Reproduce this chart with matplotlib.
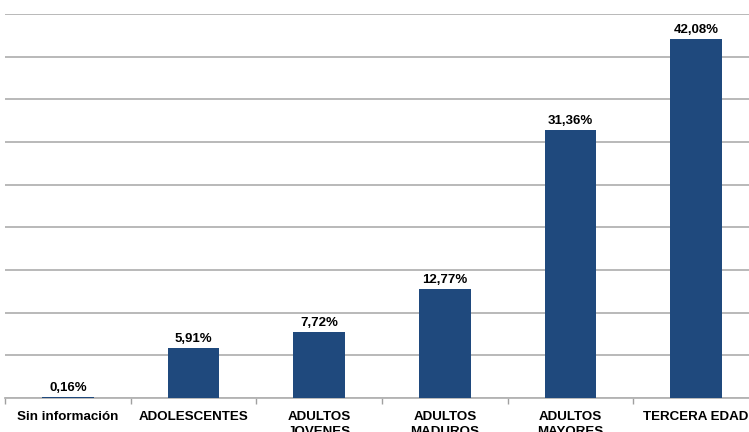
import matplotlib.pyplot as plt
import numpy as np

categories = ["Sin información", "ADOLESCENTES", "ADULTOS\nJOVENES",
              "ADULTOS\nMADUROS", "ADULTOS\nMAYORES", "TERCERA EDAD"]
percentages = [0.16, 5.91, 7.72, 12.77, 31.36, 42.08]
y_ticks = np.arange(0, 50, 5)

plt.rcParams["font.family"] = ["Liberation Sans", "DejaVu Sans"]

W, H = 749, 432
fig = plt.figure(figsize=(W / 100, H / 100), dpi=100)
# axes run a bit past the right edge, as in the cropped original
left, right, top, bottom = 5, 759, 14, 398
ax = fig.add_axes([left / W, 1 - bottom / H, (right - left) / W, (bottom - top) / H])

x = np.arange(len(categories))
ax.bar(x, percentages, width=0.41, color="#1F497D", zorder=3)

for xi, v in zip(x, percentages):
    ax.text(xi, v + 0.35, f"{v:.2f}%".replace(".", ","), ha="center", va="bottom",
            fontsize=9.5, fontweight="bold", color="black")

ax.set_xlim(-0.5, len(categories) - 0.5)
ax.set_ylim(0, 45)
ax.set_yticks(y_ticks)
ax.yaxis.grid(True, color="#B3B3B3", linewidth=1.3, zorder=0)
ax.tick_params(axis="y", left=False, labelleft=False)

ax.set_xticks(x)
ax.set_xticklabels(categories, fontsize=9.6, fontweight="bold", linespacing=1.4)
ax.set_xticks(np.arange(-0.5, len(categories)), minor=True)
ax.tick_params(axis="x", which="major", length=0, pad=9)
ax.tick_params(axis="x", which="minor", length=4, color="#A0A0A0", width=1)

for side in ["top", "right", "left"]:
    ax.spines[side].set_visible(False)
ax.spines["bottom"].set_color("#B3B3B3")
ax.spines["bottom"].set_linewidth(1.3)

fig.savefig("out.png", dpi=100)
